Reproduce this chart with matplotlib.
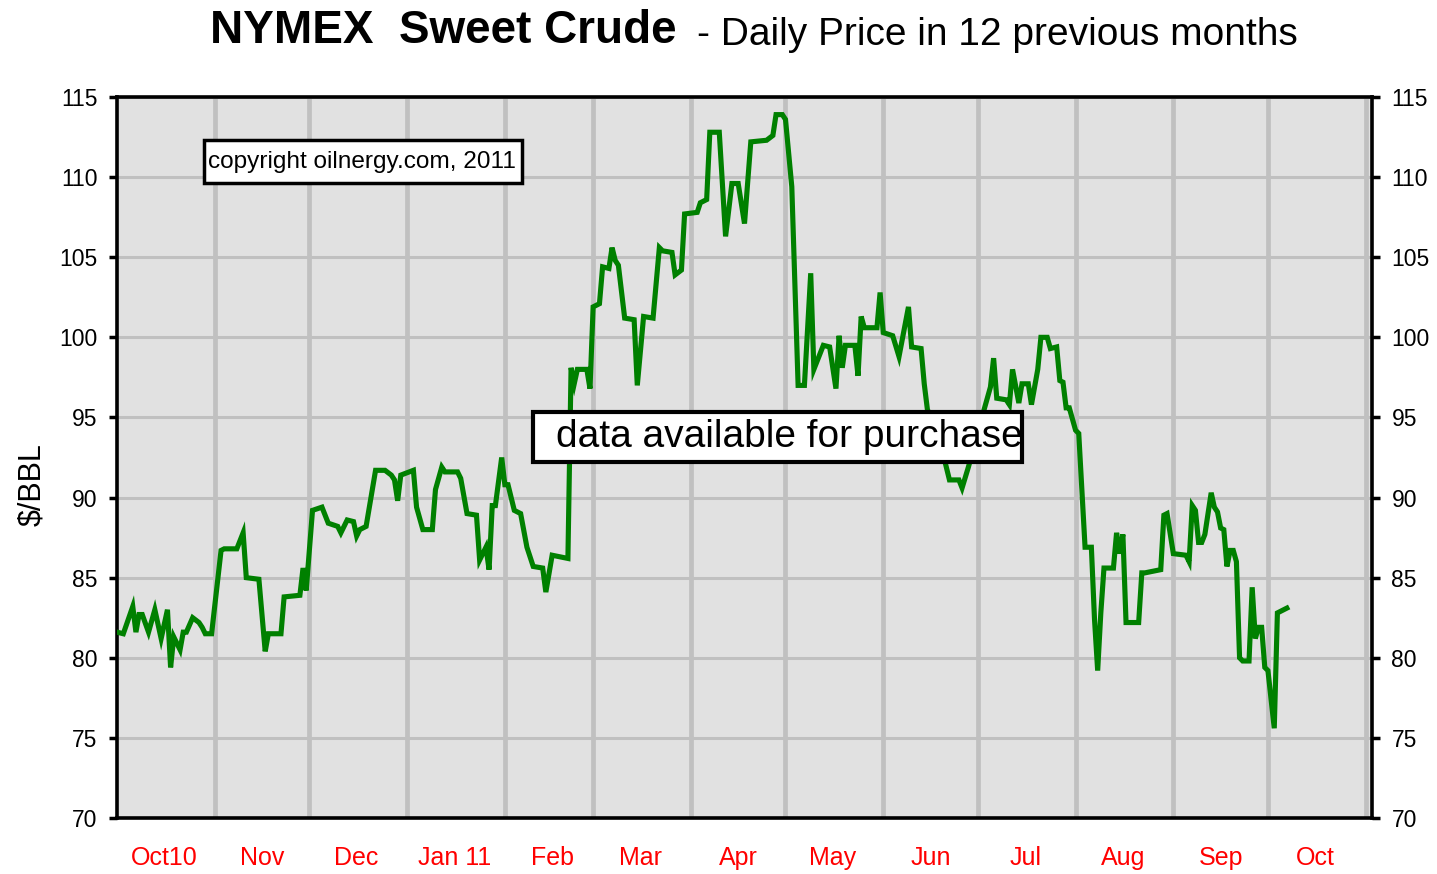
import matplotlib
matplotlib.use("Agg")
import matplotlib.pyplot as plt
import matplotlib.dates as mdates
from matplotlib import font_manager
from matplotlib.patches import Rectangle
import pandas as pd

# ---------------- data ----------------
dates = [
    "2010-10-01", "2010-10-03", "2010-10-06", "2010-10-07", "2010-10-08", "2010-10-09",
    "2010-10-11", "2010-10-13", "2010-10-15", "2010-10-17", "2010-10-18", "2010-10-19",
    "2010-10-21", "2010-10-22", "2010-10-23", "2010-10-25", "2010-10-27", "2010-10-28",
    "2010-10-29", "2010-10-31",
    "2010-11-03", "2010-11-04", "2010-11-08", "2010-11-10", "2010-11-11", "2010-11-15",
    "2010-11-17", "2010-11-18", "2010-11-22", "2010-11-23", "2010-11-28", "2010-11-29",
    "2010-11-30",
    "2010-12-02", "2010-12-05", "2010-12-07", "2010-12-10", "2010-12-11", "2010-12-13",
    "2010-12-15", "2010-12-16", "2010-12-17", "2010-12-19", "2010-12-22", "2010-12-25",
    "2010-12-27", "2010-12-28", "2010-12-29", "2010-12-30",
    "2011-01-03", "2011-01-04", "2011-01-06", "2011-01-09", "2011-01-10", "2011-01-12",
    "2011-01-13", "2011-01-17", "2011-01-18", "2011-01-20", "2011-01-23", "2011-01-24",
    "2011-01-26", "2011-01-27", "2011-01-28", "2011-01-29", "2011-01-31",
    "2011-02-01", "2011-02-02", "2011-02-04", "2011-02-06", "2011-02-08", "2011-02-10",
    "2011-02-13", "2011-02-14", "2011-02-16", "2011-02-21", "2011-02-22", "2011-02-23",
    "2011-02-24", "2011-02-27", "2011-02-28",
    "2011-03-01", "2011-03-03", "2011-03-04", "2011-03-06", "2011-03-07", "2011-03-08",
    "2011-03-09", "2011-03-11", "2011-03-14", "2011-03-15", "2011-03-17", "2011-03-20",
    "2011-03-22", "2011-03-23", "2011-03-26", "2011-03-27", "2011-03-29", "2011-03-30",
    "2011-04-03", "2011-04-04", "2011-04-06", "2011-04-07", "2011-04-10", "2011-04-12",
    "2011-04-14", "2011-04-16", "2011-04-18", "2011-04-20", "2011-04-25", "2011-04-27",
    "2011-04-28", "2011-04-30",
    "2011-05-01", "2011-05-03", "2011-05-05", "2011-05-07", "2011-05-09", "2011-05-10",
    "2011-05-12", "2011-05-13", "2011-05-15", "2011-05-17", "2011-05-18", "2011-05-19",
    "2011-05-20", "2011-05-23", "2011-05-24", "2011-05-25", "2011-05-26", "2011-05-30",
    "2011-05-31",
    "2011-06-01", "2011-06-04", "2011-06-06", "2011-06-09", "2011-06-10", "2011-06-13",
    "2011-06-14", "2011-06-15", "2011-06-19", "2011-06-22", "2011-06-25", "2011-06-26",
    "2011-06-28",
    "2011-07-03", "2011-07-05", "2011-07-06", "2011-07-07", "2011-07-10", "2011-07-11",
    "2011-07-12", "2011-07-14", "2011-07-15", "2011-07-17", "2011-07-18", "2011-07-20",
    "2011-07-21", "2011-07-23", "2011-07-24", "2011-07-26", "2011-07-27", "2011-07-28",
    "2011-07-29", "2011-07-30",
    "2011-08-01", "2011-08-02", "2011-08-04", "2011-08-06", "2011-08-07", "2011-08-08",
    "2011-08-09", "2011-08-10", "2011-08-13", "2011-08-14", "2011-08-15", "2011-08-16",
    "2011-08-17", "2011-08-21", "2011-08-22", "2011-08-23", "2011-08-28", "2011-08-29",
    "2011-08-30",
    "2011-09-01", "2011-09-05", "2011-09-06", "2011-09-07", "2011-09-08", "2011-09-09",
    "2011-09-10", "2011-09-11", "2011-09-13", "2011-09-14", "2011-09-15", "2011-09-16",
    "2011-09-17", "2011-09-18", "2011-09-19", "2011-09-20", "2011-09-21", "2011-09-22",
    "2011-09-23", "2011-09-25", "2011-09-26", "2011-09-27", "2011-09-28", "2011-09-29",
    "2011-09-30",
    "2011-10-01", "2011-10-03", "2011-10-04", "2011-10-05", "2011-10-07",
]
prices = [
    81.6, 81.5, 83.2, 81.6, 82.7, 82.7,
    81.6, 83.0, 81.2, 83.0, 79.4, 81.3,
    80.5, 81.6, 81.6, 82.5, 82.2, 81.9,
    81.5, 81.5,
    86.7, 86.8, 86.8, 87.8, 85.0, 84.9,
    80.4, 81.5, 81.5, 83.8, 83.9, 85.6,
    84.2,
    89.2, 89.4, 88.4, 88.2, 87.8, 88.6,
    88.5, 87.6, 88.0, 88.2, 91.7, 91.7,
    91.4, 91.1, 89.8, 91.4,
    91.7, 89.4, 88.0, 88.0, 90.5, 91.9,
    91.6, 91.6, 91.2, 89.0, 88.9, 86.1,
    86.9, 85.5, 89.5, 89.5, 92.5,
    90.8, 90.8, 89.2, 89.0, 86.9, 85.7,
    85.6, 84.1, 86.4, 86.2, 98.1, 97.1,
    98.0, 98.0, 96.8,
    101.9, 102.1, 104.4, 104.3, 105.6, 104.8,
    104.5, 101.2, 101.1, 97.0, 101.3, 101.2,
    105.6, 105.4, 105.3, 103.9, 104.2, 107.7,
    107.8, 108.4, 108.6, 112.8, 112.8, 106.3,
    109.6, 109.6, 107.1, 112.2, 112.3, 112.6,
    113.9, 113.9,
    113.6, 109.4, 97.0, 97.0, 104.0, 98.0,
    99.0, 99.5, 99.4, 96.8, 100.1, 98.1,
    99.5, 99.5, 97.6, 101.3, 100.6, 100.6,
    102.8,
    100.3, 100.1, 98.8, 101.9, 99.4, 99.3,
    97.1, 95.5, 93.5, 91.1, 91.1, 90.6,
    91.9,
    95.5, 96.9, 98.7, 96.2, 96.1, 95.8,
    98.0, 95.9, 97.1, 97.1, 95.8, 98.0,
    100.0, 100.0, 99.3, 99.4, 97.3, 97.2,
    95.6, 95.6,
    94.2, 94.0, 86.9, 86.9, 82.4, 79.2,
    82.8, 85.6, 85.6, 87.8, 86.5, 87.7,
    82.2, 82.2, 85.3, 85.3, 85.5, 88.9,
    89.0,
    86.5, 86.4, 86.0, 89.5, 89.2, 87.2,
    87.2, 87.7, 90.3, 89.4, 89.1, 88.1,
    88.0, 85.7, 86.7, 86.7, 86.0, 80.0,
    79.8, 79.8, 84.4, 81.2, 81.9, 81.9,
    79.4,
    79.2, 75.6, 82.8, 82.9, 83.1,
]
month_labels = ["Oct10", "Nov", "Dec", "Jan 11", "Feb", "Mar", "Apr",
                "May", "Jun", "Jul", "Aug", "Sep", "Oct"]
y_ticks = [70, 75, 80, 85, 90, 95, 100, 105, 110, 115]

# ---------------- fonts ----------------
available = {f.name for f in font_manager.fontManager.ttflist}
base_font = "Liberation Sans" if "Liberation Sans" in available else "DejaVu Sans"
plt.rcParams["font.family"] = [base_font, "DejaVu Sans"]

W, H = 1437, 874
fig = plt.figure(figsize=(W / 100, H / 100), dpi=100)
fig.patch.set_facecolor("white")

L, R, T, B = 117, 1372, 97, 818
ax = fig.add_axes([L / W, 1 - B / H, (R - L) / W, (B - T) / H])
ax.set_facecolor("#e1e1e1")

x = mdates.date2num(pd.to_datetime(dates))
ax.plot(x, prices, color="#008000", lw=3.7, solid_joinstyle="miter", zorder=3)

# axes limits
x0 = mdates.date2num(pd.Timestamp("2010-10-01"))
x1 = mdates.date2num(pd.Timestamp("2011-11-03"))
ax.set_xlim(x0, x1)
ax.set_ylim(70, 115)

# month gridlines (major) and month labels (minor)
month_starts = pd.date_range("2010-11-01", "2011-11-01", freq="MS")
ax.set_xticks(mdates.date2num(month_starts))
ax.set_xticklabels([])
mids = pd.date_range("2010-10-01", "2011-10-01", freq="MS") + pd.Timedelta(days=15)
ax.set_xticks(mdates.date2num(mids), minor=True)
ax.set_xticklabels(month_labels, minor=True, color="#ff0000", fontsize=18)
ax.tick_params(axis="x", which="both", length=0, pad=20)
ax.xaxis.grid(True, which="major", color="#c0c0c0", lw=3.4, zorder=1)

ax.set_yticks(y_ticks)
ax.set_yticklabels([str(v) for v in y_ticks], fontsize=16.5)
ax.yaxis.set_ticks_position("both")
ax.tick_params(axis="y", which="major", direction="out", length=6, width=2.5,
               labelright=True, labelleft=True, pad=8)
ax.yaxis.grid(True, color="#c0c0c0", lw=2.2, zorder=1)
ax.set_axisbelow(True)

for side, sp in ax.spines.items():
    sp.set_color("black")
    sp.set_linewidth(2.6)

# annotation boxes
ax.add_patch(Rectangle((0.0693, 0.8807), 0.2534, 0.0596, transform=ax.transAxes,
                       fc="white", ec="black", lw=2.5, zorder=5))
ax.text(0.1956, 0.9105, "copyright oilnergy.com, 2011", transform=ax.transAxes,
        ha="center", va="center", fontsize=17.6, color="black", zorder=6)

ax.add_patch(Rectangle((0.3315, 0.4938), 0.3896, 0.0693, transform=ax.transAxes,
                       fc="white", ec="black", lw=3, zorder=5))
ax.text(0.3498, 0.5284, "data available for purchase", transform=ax.transAxes,
        ha="left", va="center", fontsize=28, color="black", zorder=6)

fig.text(32 / W, 1 - 485 / H, "$/BBL", rotation=90, ha="center", va="center",
         fontsize=22, color="black")

fig.text(210 / W, 1 - 31 / H, "NYMEX  Sweet Crude", ha="left", va="center",
         fontsize=33, fontweight="bold")
fig.text(697 / W, 1 - 35 / H, "- Daily Price in 12 previous months", ha="left",
         va="center", fontsize=28)

fig.savefig("out.png", dpi=100, facecolor="white")
